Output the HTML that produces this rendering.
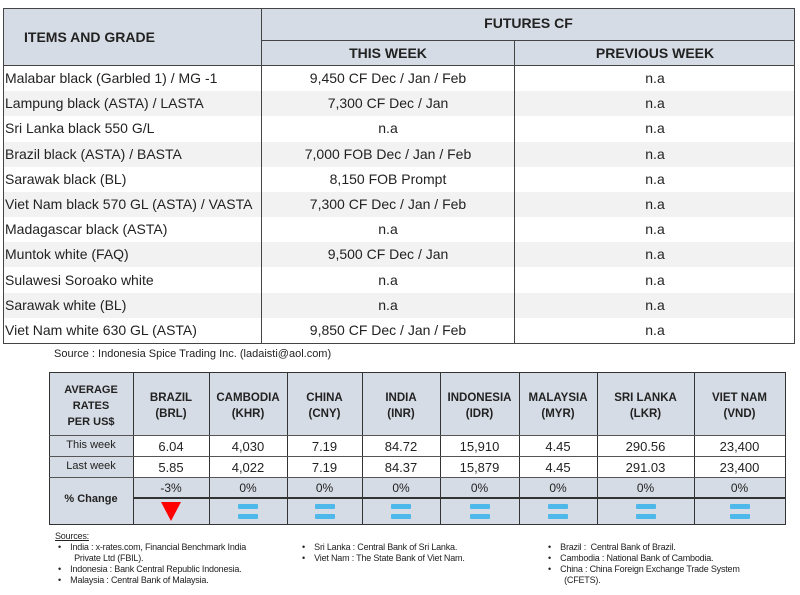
<!DOCTYPE html>
<html><head><meta charset="utf-8"><style>
body{margin:0;width:800px;height:595px;background:#fff;font-family:"Liberation Sans",sans-serif;position:relative;overflow:hidden;color:#222}
.a{position:absolute;box-sizing:border-box}
.t{position:absolute;white-space:nowrap}
.c{text-align:center}
.hb{background:#d6dce5}
.b{font-weight:bold}
.s{position:absolute;font-size:9px;line-height:11px;white-space:nowrap;letter-spacing:-0.2px}
</style></head><body>
<div class="a hb" style="left:3px;top:8px;width:792px;height:57px"></div>
<div class="a" style="left:3px;top:8px;width:792px;height:336px;border:1px solid #444"></div>
<div class="a" style="left:261px;top:8px;width:1px;height:336px;background:#444"></div>
<div class="a" style="left:514px;top:40px;width:1px;height:304px;background:#444"></div>
<div class="a" style="left:261px;top:40px;width:534px;height:1px;background:#444"></div>
<div class="a" style="left:3px;top:65px;width:792px;height:1px;background:#444"></div>
<div class="t b" style="left:24px;top:29px;font-size:14px">ITEMS AND GRADE</div>
<div class="t b c" style="left:262px;top:15px;width:533px;font-size:14px">FUTURES CF</div>
<div class="t b c" style="left:262px;top:45px;width:252px;font-size:14px">THIS WEEK</div>
<div class="t b c" style="left:515px;top:45px;width:280px;font-size:14px">PREVIOUS WEEK</div>
<div id="rows"></div>
<script>
var d=[["Malabar black (Garbled 1) / MG -1","9,450 CF Dec / Jan / Feb"],["Lampung black (ASTA) / LASTA","7,300 CF Dec / Jan"],["Sri Lanka black 550 G/L","n.a"],["Brazil black (ASTA) / BASTA","7,000 FOB Dec / Jan / Feb"],["Sarawak black (BL)","8,150 FOB Prompt"],["Viet Nam black 570 GL (ASTA) / VASTA","7,300 CF Dec / Jan / Feb"],["Madagascar black (ASTA)","n.a"],["Muntok white (FAQ)","9,500 CF Dec / Jan"],["Sulawesi Soroako white","n.a"],["Sarawak  white (BL)","n.a"],["Viet Nam white 630 GL (ASTA)","9,850 CF Dec / Jan / Feb"]];
var h="";
for(var i=0;i<d.length;i++){var y=66+i*25.2;
if(i%2==1)h+='<div class="a" style="left:4px;top:'+y+'px;width:790px;height:25px;background:#f2f2f2;z-index:-1"></div>';
h+='<div class="t" style="left:5px;top:'+(y+4)+'px;font-size:14px">'+d[i][0]+'</div>';
h+='<div class="t c" style="left:262px;width:252px;top:'+(y+4)+'px;font-size:14px">'+d[i][1]+'</div>';
h+='<div class="t c" style="left:515px;width:280px;top:'+(y+4)+'px;font-size:14px">n.a</div>';}
document.getElementById("rows").innerHTML=h;
</script>
<div class="t" style="left:54px;top:348px;font-size:11px">Source : Indonesia Spice Trading Inc. (ladaisti@aol.com)</div>
<div class="a hb" style="left:49px;top:372px;width:736px;height:63px"></div>
<div class="a hb" style="left:49px;top:477px;width:736px;height:48px"></div>
<div class="a hb" style="left:49px;top:435px;width:84px;height:42px"></div>
<div class="a" style="left:49px;top:372px;width:736px;height:153px;border:1px solid #333;border-width:1px 0 1px 1px"></div>
<div id="bt"></div>
<script>
var xs=[49,133,209,287,362,440,519,597,694,785];
var hd=[["BRAZIL","(BRL)"],["CAMBODIA","(KHR)"],["CHINA","(CNY)"],["INDIA","(INR)"],["INDONESIA","(IDR)"],["MALAYSIA","(MYR)"],["SRI LANKA","(LKR)"],["VIET NAM","(VND)"]];
var tw=["6.04","4,030","7.19","84.72","15,910","4.45","290.56","23,400"];
var lw=["5.85","4,022","7.19","84.37","15,879","4.45","291.03","23,400"];
var pc=["-3%","0%","0%","0%","0%","0%","0%","0%"];
var h="";
for(var i=1;i<xs.length;i++)h+='<div class="a" style="left:'+xs[i]+'px;top:372px;width:1px;height:153px;background:#333"></div>';
[435,456,477].forEach(function(y){h+='<div class="a" style="left:49px;top:'+y+'px;width:736px;height:1px;background:#555"></div>'});
h+='<div class="a" style="left:133px;top:497px;width:652px;height:2px;background:#333"></div>';
h+='<div class="t b c" style="left:49px;width:84px;top:382px;font-size:11px;line-height:16px">AVERAGE<br>RATES<br>PER US$</div>';
h+='<div class="t c" style="left:49px;width:84px;top:439px;font-size:11px">This week</div>';
h+='<div class="t c" style="left:49px;width:84px;top:460px;font-size:11px">Last week</div>';
h+='<div class="t b c" style="left:49px;width:84px;top:493px;font-size:11px">% Change</div>';
for(var i=0;i<8;i++){var l=xs[i+1],w=xs[i+2]-xs[i+1];
h+='<div class="t b c" style="left:'+l+'px;width:'+w+'px;top:390px;font-size:11.5px;line-height:16px">'+hd[i][0]+'<br>'+hd[i][1]+'</div>';
h+='<div class="t c" style="left:'+l+'px;width:'+w+'px;top:439px;font-size:13px">'+tw[i]+'</div>';
h+='<div class="t c" style="left:'+l+'px;width:'+w+'px;top:460px;font-size:13px">'+lw[i]+'</div>';
h+='<div class="t c" style="left:'+l+'px;width:'+w+'px;top:481px;font-size:12px">'+pc[i]+'</div>';
var cx=l+w/2;
if(i==0)h+='<div class="a" style="left:'+(cx-10)+'px;top:502px;width:0;height:0;border-left:10px solid transparent;border-right:10px solid transparent;border-top:19px solid #f00"></div>';
else h+='<div class="a" style="left:'+(cx-10)+'px;top:504px;width:20px;height:5px;background:#4fb8ea;border-radius:1px"></div><div class="a" style="left:'+(cx-10)+'px;top:514px;width:20px;height:5px;background:#4fb8ea;border-radius:1px"></div>';}
document.getElementById("bt").innerHTML=h;
</script>
<div class="s" style="left:55px;top:531px;text-decoration:underline">Sources:</div>
<div class="s" style="left:58px;top:542px">•&nbsp;&nbsp;&nbsp;&nbsp;India : x-rates.com, Financial Benchmark India<br>&nbsp;&nbsp;&nbsp;&nbsp;&nbsp;&nbsp;&nbsp;Private Ltd (FBIL).<br>•&nbsp;&nbsp;&nbsp;&nbsp;Indonesia : Bank Central Republic Indonesia.<br>•&nbsp;&nbsp;&nbsp;&nbsp;Malaysia : Central Bank of Malaysia.</div>
<div class="s" style="left:302px;top:542px">•&nbsp;&nbsp;&nbsp;&nbsp;Sri Lanka : Central Bank of Sri Lanka.<br>•&nbsp;&nbsp;&nbsp;&nbsp;Viet Nam : The State Bank of Viet Nam.</div>
<div class="s" style="left:548px;top:542px">•&nbsp;&nbsp;&nbsp;&nbsp;Brazil :&nbsp; Central Bank of Brazil.<br>•&nbsp;&nbsp;&nbsp;&nbsp;Cambodia : National Bank of Cambodia.<br>•&nbsp;&nbsp;&nbsp;&nbsp;China : China Foreign Exchange Trade System<br>&nbsp;&nbsp;&nbsp;&nbsp;&nbsp;&nbsp;&nbsp;(CFETS).</div>
</body></html>
